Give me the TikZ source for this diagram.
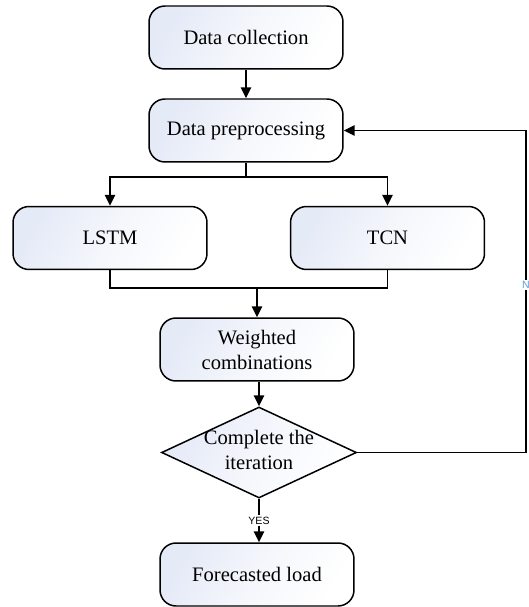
\documentclass[tikz,border=0pt]{standalone}
\usepackage{fontspec}
\setmainfont{Liberation Serif}
\newfontfamily\labelfont{Liberation Sans}
\usetikzlibrary{arrows.meta}
\usetikzlibrary{shapes.geometric}
\usetikzlibrary{positioning}

\definecolor{boxtint}{RGB}{229,234,247}
\definecolor{nolabel}{RGB}{91,155,213}

\begin{document}
\begin{tikzpicture}[x=0.02cm, y=-0.02cm]
    \tikzstyle{process}=[draw, line width=0.85pt, rounded corners=0.32cm,
      minimum width=3.88cm, minimum height=1.26cm, align=center,
      top color=boxtint, bottom color=white, middle color=white!60!boxtint,
      shading angle=60, font=\fontsize{11.7}{14.2}\selectfont]
    \tikzstyle{decision}=[draw, line width=0.85pt, diamond, inner sep=0pt,
      minimum width=3.9cm, minimum height=1.82cm,
      top color=boxtint, bottom color=white, middle color=white!60!boxtint,
      shading angle=60]
    \tikzstyle{arrow}=[line width=0.85pt, -{Triangle[length=0.22cm, width=0.21cm]}]
    \tikzstyle{link}=[line width=0.85pt]
    \tikzstyle{tag}=[font=\labelfont\fontsize{6}{7}\selectfont, inner sep=1pt]

    \useasboundingbox (0, 0) rectangle (528, 607);

    % Input stage
    \node[process] (collect) at (246, 37.5) {Data collection};
    \node[process] (prep) at (246, 130.5) {Data preprocessing};

    % Two models side by side
    \node[process] (lstm) at (110, 238) {LSTM};
    \node[process] (tcn) at (387.5, 238) {TCN};
    \coordinate (split) at (246, 177);
    \coordinate (merge) at (257, 288);

    % Combination and check
    \node[process] (combine) at (257, 349.5) {Weighted\\combinations};
    \node[decision] (iter) at (259, 452.5) {};
    \node[align=center, font=\fontsize{11.7}{14.2}\selectfont] (itertext) at (259, 450)
      {Complete the\\iteration};
    \node[process] (load) at (257, 574.5) {Forecasted load};
    \coordinate (loop) at (526, 300);

    % Connectors
    \draw[arrow] (collect) -- (prep);
    \draw[link] (prep.south) -- (split);
    \draw[arrow] (split) -| (lstm.north);
    \draw[arrow] (split) -| (tcn.north);
    \draw[link] (lstm.south) |- (merge);
    \draw[link] (tcn.south) |- (merge);
    \draw[arrow] (merge) -- (combine.north -| merge);
    \draw[arrow] (combine.south -| iter) -- (iter.north);
    \draw[arrow] (iter.south) -- node[tag, fill=white] (yes) {YES} (load.north -| iter);
    \draw[arrow] (iter.east) -- (iter.east -| loop)
      -- node[tag, fill=white, text=nolabel, pos=0.52] (no) {N} (prep.east -| loop)
      -- (prep.east);
  \end{tikzpicture}
\end{document}
